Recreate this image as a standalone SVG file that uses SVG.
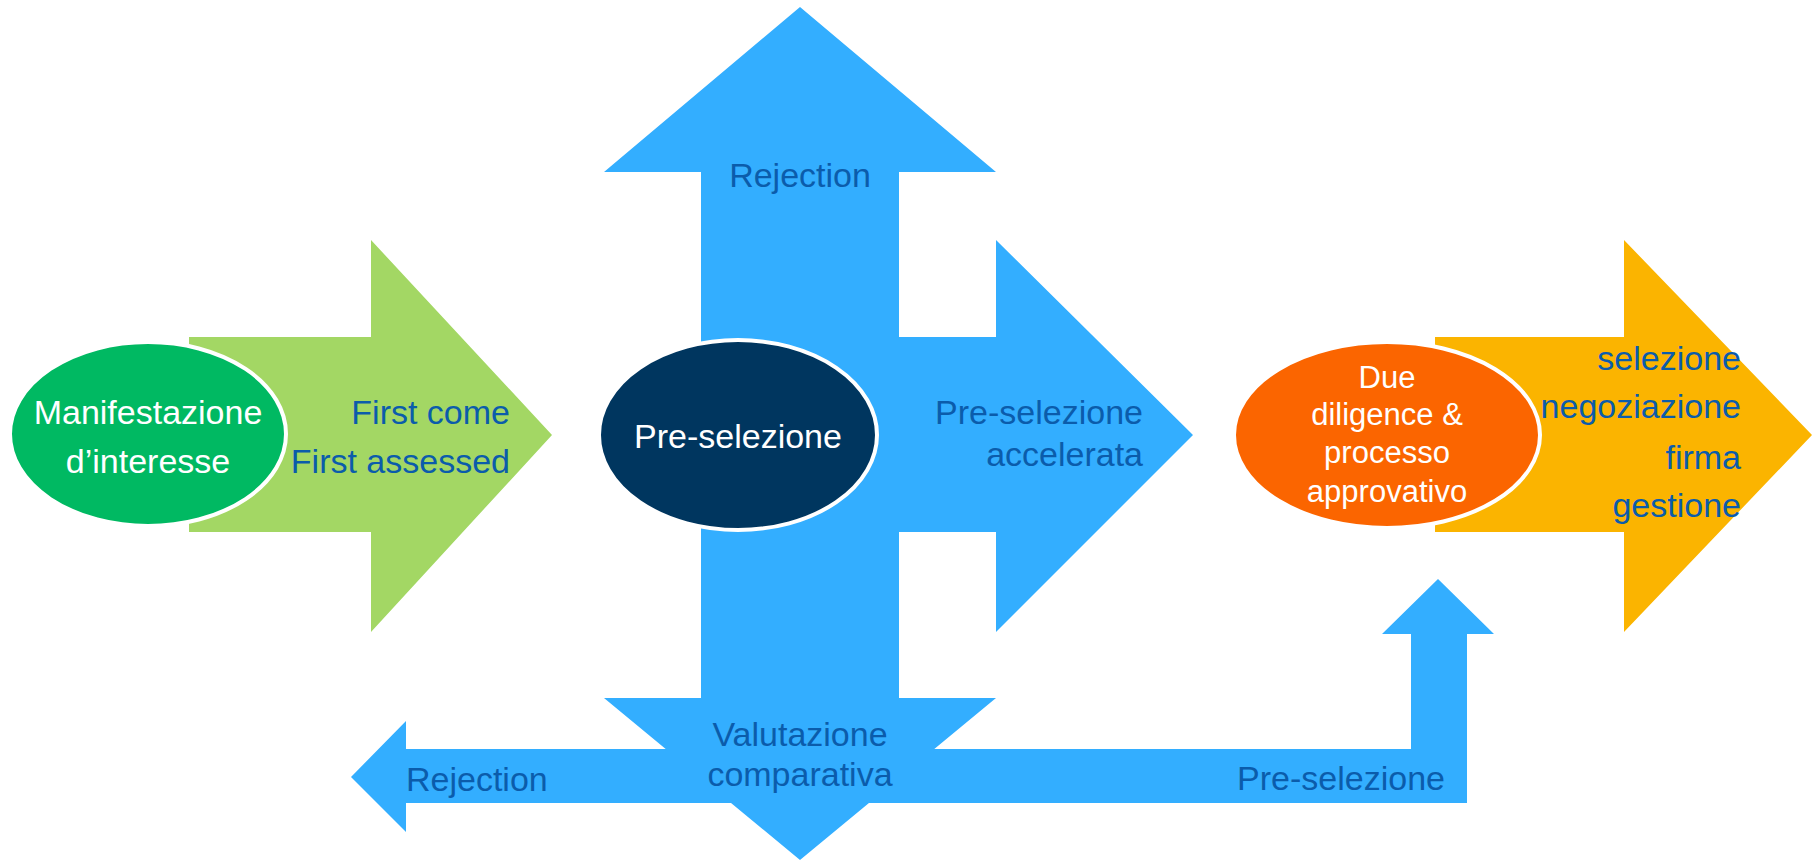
<svg xmlns="http://www.w3.org/2000/svg" width="1818" height="862" viewBox="0 0 1818 862">
<style>
.blue{fill:#33aeff}
.lbl{font-family:"Liberation Sans",Arial,sans-serif;font-size:34px;fill:#0b5cab}
.wt{font-family:"Liberation Sans",Arial,sans-serif;font-size:34px;fill:#ffffff}
.ell{stroke:#ffffff;stroke-width:4}
</style>
<rect width="1818" height="862" fill="#ffffff"/>
<g id="connectors">
  <polygon id="cross" class="blue" points="800,7 996,172 899,172 899,337 996,337 996,240 1193,435 996,632 996,532 899,532 899,698 996,698 800,860 604,698 701,698 701,172 604,172"/>
  <polygon id="bottom-bar" class="blue" points="351,777 406,721 406,749 1411,749 1411,634 1382,634 1438,579 1494,634 1467,634 1467,803 406,803 406,832"/>
  <text class="lbl" x="800" y="187" text-anchor="middle">Rejection</text>
  <text class="lbl" x="1143" y="424" text-anchor="end">Pre-selezione</text>
  <text class="lbl" x="1143" y="466" text-anchor="end">accelerata</text>
  <text class="lbl" x="800" y="746" text-anchor="middle">Valutazione</text>
  <text class="lbl" x="800" y="786" text-anchor="middle">comparativa</text>
  <text class="lbl" x="406" y="791">Rejection</text>
  <text class="lbl" x="1445" y="790" text-anchor="end">Pre-selezione</text>
</g>
<g id="node-green">
  <polygon fill="#a3d764" points="189,337 371,337 371,240 552,435 371,632 371,532 189,532"/>
  <ellipse class="ell" fill="#00b962" cx="148" cy="434" rx="138" ry="92"/>
  <text class="wt" x="148" y="424" text-anchor="middle">Manifestazione</text>
  <text class="wt" x="148" y="473" text-anchor="middle">d’interesse</text>
  <text class="lbl" x="510" y="424" text-anchor="end">First come</text>
  <text class="lbl" x="510" y="473" text-anchor="end">First assessed</text>
</g>
<g id="node-preselezione">
  <ellipse class="ell" fill="#00365f" cx="738" cy="435" rx="139" ry="95"/>
  <text class="wt" x="738" y="448" text-anchor="middle">Pre-selezione</text>
</g>
<g id="node-yellow">
  <polygon fill="#fbb400" points="1435,337 1624,337 1624,240 1812,435 1624,632 1624,532 1435,532"/>
  <text class="lbl" x="1741" y="370" text-anchor="end">selezione</text>
  <text class="lbl" x="1741" y="418" text-anchor="end">negoziazione</text>
  <text class="lbl" x="1741" y="469" text-anchor="end">firma</text>
  <text class="lbl" x="1741" y="517" text-anchor="end">gestione</text>
</g>
<g id="node-due-diligence">
  <ellipse class="ell" fill="#fb6500" cx="1387" cy="435" rx="153" ry="93"/>
  <g class="wt" style="font-size:31px" text-anchor="middle">
    <text x="1387" y="388">Due</text>
    <text x="1387" y="425">diligence &amp;</text>
    <text x="1387" y="463">processo</text>
    <text x="1387" y="502">approvativo</text>
  </g>
</g>
</svg>
